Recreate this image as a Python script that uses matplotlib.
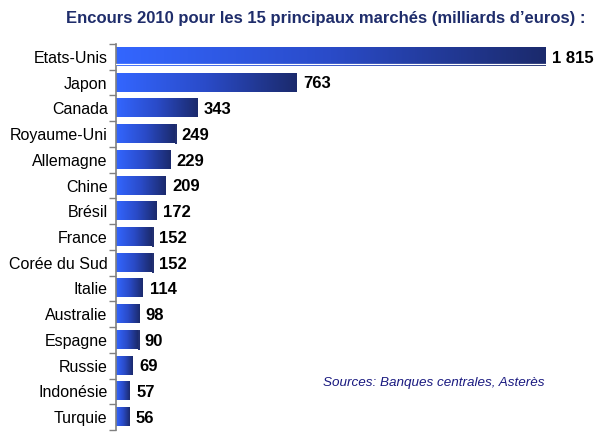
import numpy as np
import matplotlib
matplotlib.use("Agg")
import matplotlib.pyplot as plt
from matplotlib.colors import LinearSegmentedColormap

plt.rcParams['font.family'] = ['Liberation Sans', 'DejaVu Sans']

# données
pays = ["Etats-Unis", "Japon", "Canada", "Royaume-Uni", "Allemagne", "Chine", "Brésil",
        "France", "Corée du Sud", "Italie", "Australie", "Espagne", "Russie", "Indonésie", "Turquie"]
encours = [1815, 763, 343, 249, 229, 209, 172, 152, 152, 114, 98, 90, 69, 57, 56]
titre = "Encours 2010 pour les 15 principaux marchés (milliards d\u2019euros) :"
source = "Sources: Banques centrales, Asterès"

# barres avec un petit trait vertical au bout (comme dans l'original)
avec_trait = ["Royaume-Uni", "France", "Corée du Sud", "Espagne"]

cmap = LinearSegmentedColormap.from_list("bleu", ["#3366ff", "#2a4bc8", "#1b2a6c"])
grad = np.linspace(0, 1, 256).reshape(1, -1)

fig = plt.figure(figsize=(5.99, 4.34), dpi=100)
ax = fig.add_axes([116 / 599, 1 - 430 / 434, 474 / 599, 386 / 434])

h = 0.7
for i, (p, v) in enumerate(zip(pays, encours)):
    ax.imshow(grad, cmap=cmap, aspect="auto", extent=[0, v, i + h / 2, i - h / 2],
              interpolation="bilinear", zorder=2)
    label = f"{v:,}".replace(",", " ")
    ax.text(v + 28, i + 0.05, label, va="center", ha="left", fontsize=12,
            fontweight="bold", color="black")
    if p in avec_trait:
        ax.plot([v + 6, v + 6], [i - h / 2, i + h / 2], color="#1b2a6c", lw=1.4, zorder=3)

# petit défaut de la première barre
ax.plot([0, encours[0]], [0 + h / 2 - 0.08] * 2, color="white", lw=0.9, zorder=3)

ax.set_xlim(0, 2005)
ax.set_ylim(len(pays) - 0.5, -0.5)
ax.set_yticks(range(len(pays)))
ax.set_yticklabels(pays, fontsize=11.5)
ax.set_yticks(np.arange(-0.5, len(pays), 1), minor=True)
ax.tick_params(axis="y", which="major", length=0, pad=6)
ax.tick_params(axis="y", which="minor", length=5, color="#808080", width=1)
ax.set_xticks([])
for s in ["top", "right", "bottom"]:
    ax.spines[s].set_visible(False)
ax.spines["left"].set_color("#808080")
ax.spines["left"].set_linewidth(1.2)

fig.text(326 / 599, 1 - 18 / 434, titre, ha="center", va="center", fontsize=12,
         fontweight="bold", color="#1f2d6b")
fig.text(323 / 599, 1 - 383 / 434, source, ha="left", va="center", fontsize=9.7,
         style="italic", color="#1a1a80")

fig.savefig("out.png", dpi=100)
